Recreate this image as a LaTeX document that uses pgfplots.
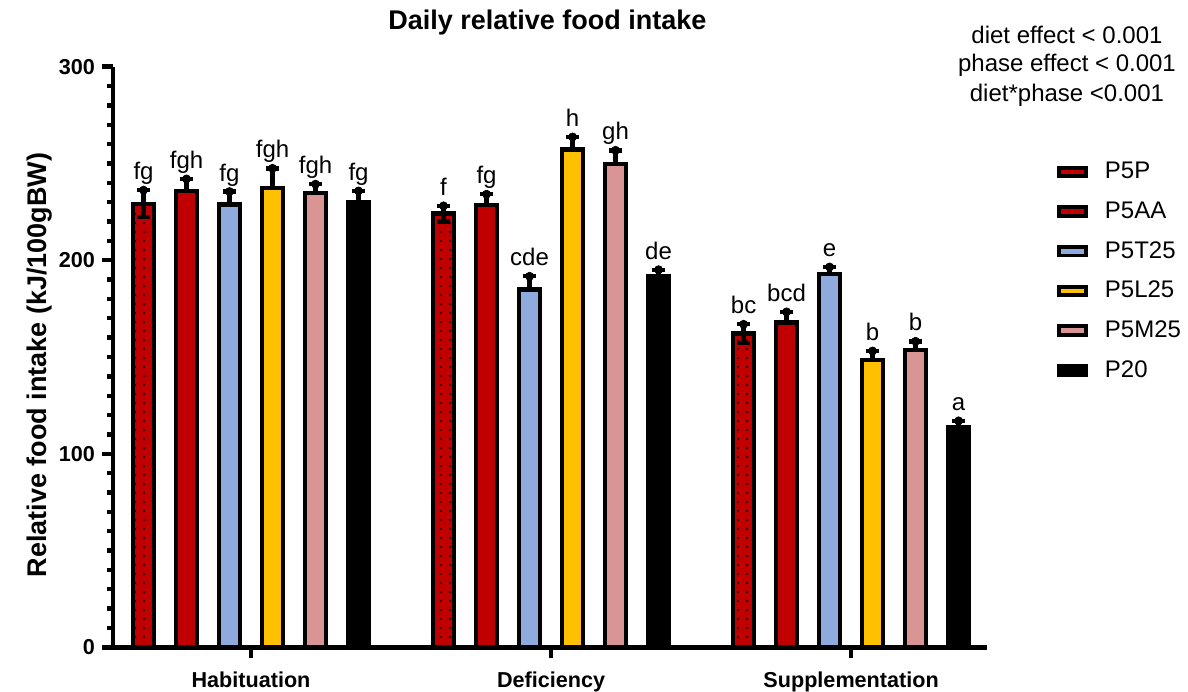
\documentclass[border=0pt]{standalone}
\usepackage{fontspec}
\setmainfont{Liberation Sans}
\usepackage{pgfplots}
\pgfplotsset{compat=1.18}
\usepackage{pgfplotstable}
\usetikzlibrary{patterns.meta}

\definecolor{cRed}{HTML}{C00000}
\definecolor{cBlue}{HTML}{8FAADC}
\definecolor{cYel}{HTML}{FFC000}
\definecolor{cPink}{HTML}{D99594}

% x = phase (0,1,2) + offset of the diet within the group
\pgfplotstableread{
x y e lab
-0.3583 229.2 7.0 fg
0.6417 224.1 4.0 f
1.6417 162.1 4.8 bc
}\tPP
\pgfplotstableread{
x y e lab
-0.215 235.7 6.3 fgh
0.785 228.4 5.7 fg
1.785 167.8 5.5 bcd
}\tPAA
\pgfplotstableread{
x y e lab
-0.0717 228.7 6.8 fg
0.9283 184.8 6.9 cde
1.9283 192.8 3.7 e
}\tPT
\pgfplotstableread{
x y e lab
0.0717 237.4 10.1 fgh
1.0717 257.2 6.5 h
2.0717 148.6 4.5 b
}\tPL
\pgfplotstableread{
x y e lab
0.215 234.6 4.7 fgh
1.215 249.6 7.2 gh
2.215 153.5 4.6 b
}\tPM
\pgfplotstableread{
x y e lab
0.3583 230.1 5.7 fg
1.3583 191.7 3.4 de
2.3583 113.5 3.5 a
}\tPtw

\pgfplotsset{
  barbase/.style={ybar, bar width=10.65pt, draw=black, line width=2.2pt},
  lbl/.style={forget plot, only marks, mark=*, mark options={draw=none, fill=none},
    point meta=explicit symbolic, nodes near coords,
    every node near coord/.append style={anchor=base, yshift=5.25pt,
      font=\fontsize{12}{14}\selectfont, text=black}},
}

\begin{document}
\begin{tikzpicture}
\begin{axis}[
  scale only axis, width=437pt, height=290.3pt,
  xmin=-0.46, xmax=2.453, ymin=0, ymax=300,
  axis x line*=bottom, axis y line*=left,
  axis line style={line width=2.2pt, -},
  xtick={0,1,2}, xticklabels={Habituation,Deficiency,Supplementation},
  ytick={0,100,200,300}, minor y tick num=9,
  tick align=outside, major tick length=5.5pt, minor tick length=2.75pt,
  tick style={line width=2.2pt, black},
  ticklabel style={font=\bfseries\fontsize{10.8}{13}\selectfont},
  xticklabel style={yshift=-3pt},
  /pgf/number format/assume math mode=true,
  ylabel={Relative food intake (kJ/100gBW)},
  every axis y label/.style={at={(axis description cs:-0.0835,0.486)}, rotate=90,
    anchor=center, font=\bfseries\fontsize{13.5}{16}\selectfont},
  title={Daily relative food intake},
  every axis title/.style={at={(axis description cs:0.497,1.064)}, anchor=base,
    font=\bfseries\fontsize{13.5}{16}\selectfont},
  legend style={at={(axis description cs:1.0798,0.853)}, anchor=north west,
    draw=none, fill=none, inner sep=0pt, outer sep=0pt, row sep=0pt, column sep=8.6pt,
    font=\fontsize{12}{14}\selectfont, nodes={minimum height=19.85pt, inner sep=0pt}},
  legend cell align=left,
  legend image code/.code={\draw[#1, line width=1.9pt] (0.95pt,-2.15pt) rectangle (14.55pt,2.15pt);},
  clip=false,
  error bars/error bar style={line width=2.2pt, black},
  error bars/error mark options={rotate=90, line width=2.2pt, black, mark size=3.3pt},
]
\addplot[barbase, fill=cRed, postaction={pattern={Dots[distance=4.5pt, radius=0.55pt]}, pattern color=black},
  error bars/.cd, y dir=both, y explicit] table[x=x, y=y, y error=e] {\tPP};
\addplot[barbase, fill=cRed, error bars/.cd, y dir=plus, y explicit] table[x=x, y=y, y error=e] {\tPAA};
\addplot[barbase, fill=cBlue, error bars/.cd, y dir=plus, y explicit] table[x=x, y=y, y error=e] {\tPT};
\addplot[barbase, fill=cYel, error bars/.cd, y dir=plus, y explicit] table[x=x, y=y, y error=e] {\tPL};
\addplot[barbase, fill=cPink, error bars/.cd, y dir=plus, y explicit] table[x=x, y=y, y error=e] {\tPM};
\addplot[barbase, fill=black, error bars/.cd, y dir=plus, y explicit] table[x=x, y=y, y error=e] {\tPtw};
\legend{P5P, P5AA, P5T25, P5L25, P5M25, P20}

\addplot[lbl] table[x=x, y expr=\thisrow{y}+\thisrow{e}, meta=lab] {\tPP};
\addplot[lbl] table[x=x, y expr=\thisrow{y}+\thisrow{e}, meta=lab] {\tPAA};
\addplot[lbl] table[x=x, y expr=\thisrow{y}+\thisrow{e}, meta=lab] {\tPT};
\addplot[lbl] table[x=x, y expr=\thisrow{y}+\thisrow{e}, meta=lab] {\tPL};
\addplot[lbl] table[x=x, y expr=\thisrow{y}+\thisrow{e}, meta=lab] {\tPM};
\addplot[lbl] table[x=x, y expr=\thisrow{y}+\thisrow{e}, meta=lab] {\tPtw};

\node[anchor=base, font=\fontsize{12}{14}\selectfont] at (axis description cs:1.0915,1.0408) {diet effect < 0.001};
\node[anchor=base, font=\fontsize{12}{14}\selectfont] at (axis description cs:1.0915,0.9909) {phase effect < 0.001};
\node[anchor=base, font=\fontsize{12}{14}\selectfont] at (axis description cs:1.0915,0.9409) {diet*phase <0.001};
\end{axis}
\pgfresetboundingbox
\path[use as bounding box] (-56.5pt,-21.85pt) rectangle (537.5pt,323.65pt);
\end{tikzpicture}
\end{document}
